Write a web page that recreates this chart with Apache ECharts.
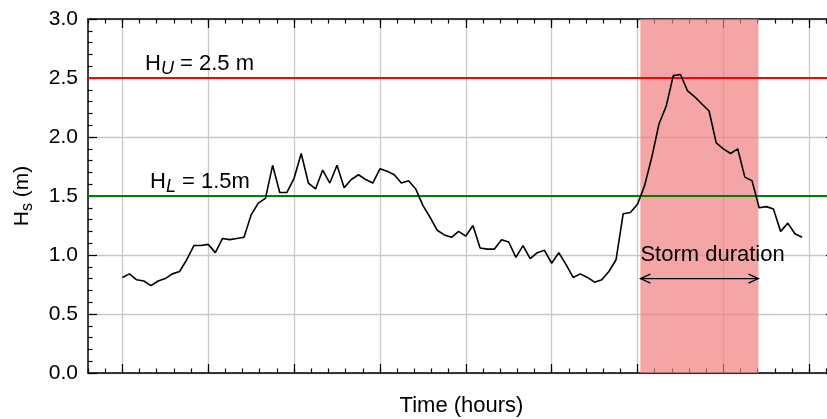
<!DOCTYPE html>
<html>
<head>
<meta charset="utf-8">
<script src="https://cdn.jsdelivr.net/npm/echarts@6/dist/echarts.min.js"></script>
<style>
  html, body { margin: 0; padding: 0; background: #fff; overflow: hidden; }
  #chart { width: 840px; height: 419px; }
</style>
</head>
<body>
<div id="chart"></div>
<script>
// Significant wave height Hs (m), one sample per time step (12 steps per major tick)
const hsValues = [
  0.81, 0.84, 0.79, 0.78, 0.74, 0.78, 0.80, 0.84, 0.86, 0.96, 1.08, 1.08,
  1.09, 1.02, 1.14, 1.13, 1.14, 1.15, 1.34, 1.44, 1.48, 1.76, 1.53, 1.53,
  1.65, 1.86, 1.61, 1.56, 1.72, 1.61, 1.76, 1.57, 1.64, 1.68, 1.64, 1.61,
  1.73, 1.71, 1.68, 1.61, 1.63, 1.56, 1.42, 1.32, 1.21, 1.17, 1.15, 1.20,
  1.16, 1.25, 1.06, 1.05, 1.05, 1.13, 1.11, 0.98, 1.08, 0.97, 1.02, 1.04,
  0.93, 1.02, 0.92, 0.81, 0.84, 0.81, 0.77, 0.79, 0.86, 0.96, 1.35, 1.36,
  1.43, 1.59, 1.83, 2.11, 2.26, 2.52, 2.53, 2.39, 2.34, 2.28, 2.22, 1.95,
  1.90, 1.86, 1.90, 1.66, 1.63, 1.40, 1.41, 1.39, 1.20, 1.27, 1.18, 1.15
];

// Thresholds (m)
const upperThreshold = 2.5;
const lowerThreshold = 1.5;

// Storm window (time steps) and the level of the duration arrow (m)
const stormStart = 72.4;
const stormEnd = 88.9;
const arrowLevel = 0.8;

// Time axis
const timeMin = -4.8;
const timeMax = 99.6;
const minorStep = 2.4;
const majorTicks = [0, 12, 24, 36, 48, 60, 72, 84, 96];

// Height axis
const hsMin = 0;
const hsMax = 3;
const hsStep = 0.5;

const FONT = '"Liberation Sans", Arial, Helvetica, sans-serif';
const BLACK = '#000';
const GRID_GREY = '#c9c9c9';
const TEXT_SIZE = 22;

const chart = echarts.init(document.getElementById('chart'), null, { renderer: 'canvas' });

const axisLineStyle = { onZero: false, lineStyle: { color: BLACK, width: 1.5 } };
const tickLine = { color: BLACK, width: 1.2 };

function timeAxis(extra) {
  return Object.assign({
    type: 'value',
    gridIndex: 0,
    min: timeMin,
    max: timeMax,
    axisLabel: { show: false },
    splitLine: { show: false },
    axisLine: axisLineStyle
  }, extra);
}

const subRich = (mainSize, subSize) => ({
  h: { fontSize: mainSize, fontFamily: FONT, color: BLACK, lineHeight: 28 },
  s: { fontSize: subSize, fontFamily: FONT, color: BLACK, fontStyle: 'italic', lineHeight: 14, verticalAlign: 'bottom' },
  r: { fontSize: subSize, fontFamily: FONT, color: BLACK, lineHeight: 14, verticalAlign: 'bottom' },
  t: { fontSize: mainSize, fontFamily: FONT, color: BLACK, lineHeight: 28 }
});

const option = {
  animation: false,
  backgroundColor: '#fff',
  grid: { left: 88, top: 19, right: 5, bottom: 46, containLabel: false, outerBoundsMode: 'none' },
  xAxis: [
    // bottom minor ticks + axis title
    timeAxis({
      position: 'bottom',
      interval: minorStep,
      axisTick: { inside: true, length: 4.5, lineStyle: tickLine },
      name: 'Time (hours)',
      nameLocation: 'middle',
      nameGap: 22,
      nameTextStyle: { fontSize: TEXT_SIZE, fontFamily: FONT, color: BLACK }
    }),
    // bottom major ticks + vertical grid
    timeAxis({
      position: 'bottom',
      axisLine: { show: false, onZero: false },
      axisTick: { inside: true, length: 9, lineStyle: tickLine, customValues: majorTicks },
      splitLine: { show: true, lineStyle: { color: GRID_GREY, width: 1.3 } }
    }),
    // top frame minor ticks
    timeAxis({
      position: 'top',
      interval: minorStep,
      axisTick: { inside: true, length: 4.5, lineStyle: tickLine }
    }),
    // top frame major ticks
    timeAxis({
      position: 'top',
      axisLine: { show: false, onZero: false },
      axisTick: { inside: true, length: 9, lineStyle: tickLine, customValues: majorTicks }
    })
  ],
  yAxis: [
    {
      type: 'value',
      position: 'left',
      min: hsMin,
      max: hsMax,
      interval: hsStep,
      axisLine: axisLineStyle,
      axisTick: { inside: true, length: 9, lineStyle: tickLine },
      minorTick: { show: true, splitNumber: 5, length: 4.5, lineStyle: tickLine },
      axisLabel: {
        formatter: v => v.toFixed(1),
        fontSize: TEXT_SIZE - 1,
        fontFamily: FONT,
        color: BLACK,
        margin: 10
      },
      splitLine: { show: true, lineStyle: { color: GRID_GREY, width: 1.3 } },
      name: '{h|H}{r|s}{t| (m)}',
      nameLocation: 'middle',
      nameGap: 52,
      nameTextStyle: { rich: subRich(TEXT_SIZE - 1, 16) }
    },
    {
      type: 'value',
      position: 'right',
      min: hsMin,
      max: hsMax,
      interval: hsStep,
      axisLine: axisLineStyle,
      axisTick: { inside: true, length: 9, lineStyle: tickLine },
      minorTick: { show: true, splitNumber: 5, length: 4.5, lineStyle: tickLine },
      axisLabel: { show: false },
      splitLine: { show: false }
    }
  ],
  series: [
    {
      // shaded storm window, kept underneath the grid
      type: 'line',
      xAxisIndex: 0,
      yAxisIndex: 0,
      data: [],
      z: -1,
      silent: true,
      markArea: {
        silent: true,
        itemStyle: { color: 'rgba(240,128,128,0.7)' },
        data: [[{ xAxis: stormStart }, { xAxis: stormEnd }]]
      }
    },
    {
      type: 'line',
      name: 'Hs',
      xAxisIndex: 0,
      yAxisIndex: 0,
      data: hsValues.map((v, i) => [i, v]),
      showSymbol: false,
      symbol: 'none',
      lineStyle: { color: BLACK, width: 1.6 },
      z: 4,
      markLine: {
        silent: true,
        symbol: 'none',
        z: 3,
        data: [
          {
            yAxis: upperThreshold,
            lineStyle: { color: '#ff0000', width: 2, type: 'solid' },
            label: {
              position: 'insideStartTop',
              distance: 0,
              padding: [0, 0, 0, 57],
              formatter: '{h|H}{s|U}{t| = ' + upperThreshold.toFixed(1) + ' m}',
              rich: subRich(TEXT_SIZE, 18)
            }
          },
          {
            yAxis: lowerThreshold,
            lineStyle: { color: '#008000', width: 2, type: 'solid' },
            label: {
              position: 'insideStartTop',
              distance: 0,
              padding: [0, 0, 0, 62],
              formatter: '{h|H}{s|L}{t| = ' + lowerThreshold.toFixed(1) + 'm}',
              rich: subRich(TEXT_SIZE, 18)
            }
          }
        ]
      }
    },
    {
      // storm duration arrow and caption
      type: 'custom',
      xAxisIndex: 0,
      yAxisIndex: 0,
      z: 5,
      silent: true,
      clip: false,
      data: [[stormStart, stormEnd, arrowLevel]],
      encode: { x: [0, 1], y: 2 },
      renderItem: function (params, api) {
        const p0 = api.coord([api.value(0), api.value(2)]);
        const p1 = api.coord([api.value(1), api.value(2)]);
        const headLen = 10, headHalf = 4.5;
        const stroke = { stroke: BLACK, lineWidth: 1.2, fill: null };
        return {
          type: 'group',
          children: [
            { type: 'polyline', shape: { points: [p0, p1] }, style: stroke },
            { type: 'polyline', shape: { points: [[p0[0] + headLen, p0[1] - headHalf], p0, [p0[0] + headLen, p0[1] + headHalf]] }, style: stroke },
            { type: 'polyline', shape: { points: [[p1[0] - headLen, p1[1] - headHalf], p1, [p1[0] - headLen, p1[1] + headHalf]] }, style: stroke },
            {
              type: 'text',
              x: p0[0],
              y: p0[1] - 24,
              style: { text: 'Storm duration', fontSize: TEXT_SIZE, fontFamily: FONT, fill: BLACK, align: 'left', verticalAlign: 'middle' }
            }
          ]
        };
      }
    }
  ]
};

chart.setOption(option);
</script>
</body>
</html>
